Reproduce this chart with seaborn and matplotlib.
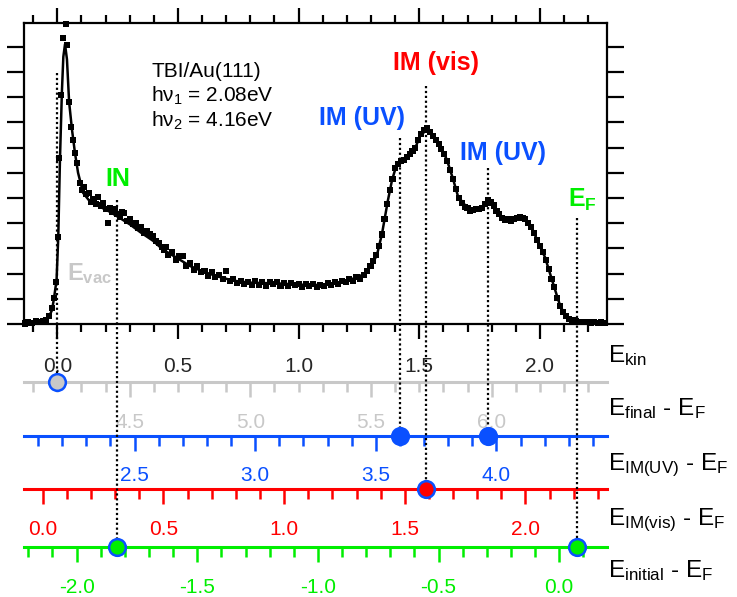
import numpy as np
import pandas as pd
import matplotlib
matplotlib.use('Agg')
import matplotlib.pyplot as plt
import seaborn as sns
from matplotlib.ticker import MultipleLocator, FixedLocator, FixedFormatter, NullFormatter

# ---------------- data ----------------
# smooth fit line (E_kin in eV, intensity in arb. units = tick spacing)
fit_ekin = [-0.140, -0.100, -0.070, -0.050, -0.035, -0.022, -0.014, -0.003, 0.004, 0.011,
            0.019, 0.025, 0.032, 0.040, 0.049, 0.061, 0.073, 0.086, 0.107, 0.136,
            0.177, 0.218, 0.260, 0.301, 0.343, 0.397, 0.438, 0.496, 0.550, 0.604,
            0.660, 0.728, 0.799, 0.869, 0.935, 1.006, 1.076, 1.118, 1.159, 1.200,
            1.242, 1.275, 1.304, 1.325, 1.346, 1.358, 1.370, 1.387, 1.404, 1.429,
            1.453, 1.482, 1.503, 1.524, 1.545, 1.565, 1.586, 1.615, 1.640, 1.661,
            1.698, 1.723, 1.760, 1.785, 1.806, 1.835, 1.864, 1.897, 1.926, 1.951,
            1.972, 1.992, 2.021, 2.042, 2.063, 2.083, 2.104, 2.133, 2.179, 2.270]
fit_int = [0.03, 0.06, 0.09, 0.14, 0.28, 0.55, 1.00, 1.75, 3.45, 6.50,
           9.20, 10.60, 11.10, 10.50, 8.80, 7.70, 6.80, 6.00, 5.20, 4.85,
           4.65, 4.45, 4.20, 3.95, 3.65, 3.30, 2.95, 2.62, 2.30, 2.08,
           1.90, 1.72, 1.64, 1.62, 1.60, 1.56, 1.55, 1.58, 1.62, 1.72,
           1.85, 2.00, 2.35, 2.75, 3.60, 4.25, 4.90, 5.70, 6.25, 6.45,
           6.65, 6.95, 7.45, 7.65, 7.60, 7.35, 7.10, 6.50, 5.75, 5.05,
           4.62, 4.50, 4.62, 4.88, 4.72, 4.30, 4.12, 4.20, 4.25, 4.05,
           3.70, 3.25, 2.65, 2.00, 1.35, 0.75, 0.35, 0.15, 0.08, 0.05]

# measured points (square markers)
pts_ekin = [-0.135, -0.120, -0.105, -0.090, -0.075, -0.060, -0.045, -0.033, -0.022, -0.012,
            -0.004, 0.002, 0.009, 0.016, 0.022, 0.035, 0.040, 0.050, 0.057, 0.066,
            0.075, 0.083, 0.094, 0.101, 0.110, 0.120, 0.130, 0.140, 0.150, 0.160,
            0.170, 0.180, 0.190, 0.200, 0.211, 0.218, 0.228, 0.238, 0.248, 0.258,
            0.268, 0.278, 0.290, 0.300, 0.312, 0.324, 0.336, 0.348, 0.360, 0.372,
            0.384, 0.396, 0.408, 0.420, 0.432, 0.444, 0.452, 0.460, 0.475, 0.490,
            0.505, 0.520, 0.535, 0.550, 0.565, 0.580, 0.595, 0.610, 0.625, 0.640,
            0.655, 0.670, 0.685, 0.700, 0.715, 0.730, 0.745, 0.760, 0.775, 0.790,
            0.805, 0.820, 0.835, 0.850, 0.865, 0.880, 0.895, 0.910, 0.925, 0.940,
            0.955, 0.970, 0.985, 1.000, 1.015, 1.030, 1.045, 1.060, 1.075, 1.090,
            1.105, 1.120, 1.135, 1.150, 1.165, 1.180, 1.195, 1.210, 1.225, 1.240,
            1.255, 1.270, 1.285, 1.298, 1.310, 1.322, 1.334, 1.345, 1.356, 1.367,
            1.378, 1.389, 1.400, 1.412, 1.424, 1.436, 1.448, 1.460, 1.472, 1.484,
            1.496, 1.508, 1.520, 1.532, 1.544, 1.556, 1.568, 1.580, 1.592, 1.604,
            1.616, 1.628, 1.640, 1.652, 1.664, 1.676, 1.688, 1.700, 1.712, 1.724,
            1.736, 1.748, 1.760, 1.772, 1.784, 1.796, 1.808, 1.820, 1.832, 1.844,
            1.856, 1.868, 1.880, 1.892, 1.904, 1.916, 1.928, 1.940, 1.952, 1.964,
            1.976, 1.988, 2.000, 2.012, 2.024, 2.036, 2.048, 2.060, 2.072, 2.084,
            2.096, 2.108, 2.120, 2.135, 2.150, 2.165, 2.180, 2.195, 2.210, 2.225,
            2.240, 2.255, 2.270]
pts_int = [0.02, 0.06, 0.05, 0.10, 0.09, 0.12, 0.16, 0.30, 0.62, 1.05,
           1.65, 3.45, 6.60, 9.10, 11.35, 11.90, 11.05, 8.80, 7.80, 7.30,
           6.80, 6.40, 5.60, 5.30, 5.45, 5.15, 5.20, 4.85, 4.95, 4.75,
           5.05, 4.70, 4.80, 4.55, 4.00, 4.60, 4.45, 4.55, 4.35, 4.25,
           4.45, 4.40, 4.10, 4.15, 3.95, 4.00, 3.80, 3.85, 3.62, 3.70,
           3.55, 3.48, 3.30, 3.22, 3.05, 2.95, 3.05, 2.75, 2.85, 2.55,
           2.70, 2.70, 2.30, 2.40, 2.15, 2.28, 2.05, 2.12, 1.90, 2.05,
           1.88, 1.95, 1.80, 2.10, 1.72, 1.78, 1.62, 1.72, 1.58, 1.68,
           1.56, 1.70, 1.55, 1.66, 1.52, 1.68, 1.58, 1.65, 1.52, 1.62,
           1.50, 1.64, 1.54, 1.60, 1.48, 1.58, 1.52, 1.60, 1.48, 1.56,
           1.50, 1.62, 1.54, 1.66, 1.58, 1.72, 1.65, 1.78, 1.70, 1.88,
           1.80, 1.95, 2.12, 2.30, 2.50, 2.72, 3.10, 3.55, 4.15, 4.75,
           5.30, 5.75, 6.20, 6.35, 6.45, 6.50, 6.62, 6.75, 6.85, 7.00,
           7.30, 7.55, 7.70, 7.78, 7.62, 7.45, 7.30, 7.15, 6.95, 6.75,
           6.45, 6.10, 5.75, 5.35, 5.00, 4.80, 4.65, 4.62, 4.50, 4.52,
           4.55, 4.58, 4.62, 4.75, 4.90, 4.82, 4.70, 4.50, 4.35, 4.22,
           4.12, 4.15, 4.10, 4.18, 4.22, 4.25, 4.22, 4.15, 4.02, 3.85,
           3.62, 3.35, 3.10, 2.85, 2.55, 2.20, 1.80, 1.45, 1.05, 0.72,
           0.48, 0.30, 0.20, 0.14, 0.10, 0.09, 0.07, 0.08, 0.06, 0.07,
           0.05, 0.06, 0.05]

# main E_kin tick labels
ekin_ticks = [0.0, 0.5, 1.0, 1.5, 2.0]
ekin_ticklabels = ["0.0", "0.5", "1.0", "1.5", "2.0"]

# energy scales below the spectrum: label, offset to E_kin, colour, tick labels
scale_names = ["E$_{final}$ - E$_F$", "E$_{IM(UV)}$ - E$_F$",
               "E$_{IM(vis)}$ - E$_F$", "E$_{initial}$ - E$_F$"]
scale_offsets = [4.20, 2.18, 0.06, -2.08]
scale_colors = ["#c8c8c8", "#0a50ff", "#ff0000", "#00ee00"]
scale_ticks = [[4.5, 5.0, 5.5, 6.0],
               [2.5, 3.0, 3.5, 4.0],
               [0.0, 0.5, 1.0, 1.5, 2.0],
               [-2.0, -1.5, -1.0, -0.5, 0.0]]
scale_ticklabels = [["4.5", "5.0", "5.5", "6.0"],
                    ["2.5", "3.0", "3.5", "4.0"],
                    ["0.0", "0.5", "1.0", "1.5", "2.0"],
                    ["-2.0", "-1.5", "-1.0", "-0.5", "0.0"]]

# marked states (E_kin positions)
state_ekin = [0.0, 0.248, 1.420, 1.527, 1.785, 2.154]
state_top = [9.96, 4.92, 7.38, 9.44, 6.19, 4.21]
state_scale = [0, 3, 1, 2, 1, 3]          # index of the scale they drop to

# ---------------- style ----------------
sns.set_style("ticks")
plt.rcParams['font.family'] = ['Liberation Sans', 'DejaVu Sans']
plt.rcParams['mathtext.default'] = 'regular'
plt.rcParams['axes.unicode_minus'] = False

W, H = 737, 597
fig = plt.figure(figsize=(W / 100, H / 100), dpi=100)
ax = fig.add_axes([24 / W, 1 - 324 / H, (607 - 24) / W, (324 - 23) / H])

YMAX = 11.94
ax.set_xlim(-0.138, 2.278)
ax.set_ylim(0, YMAX)

fit_df = pd.DataFrame({"Ekin": fit_ekin, "I": fit_int})
pts_df = pd.DataFrame({"Ekin": pts_ekin, "I": pts_int})
sns.lineplot(data=fit_df, x="Ekin", y="I", ax=ax, color="black", lw=1.8,
             sort=False, zorder=3)
sns.scatterplot(data=pts_df, x="Ekin", y="I", ax=ax, color="black", marker="s",
                s=19, edgecolor="none", linewidth=0, zorder=4, clip_on=False)
ax.set_xlabel("")
ax.set_ylabel("")

for sp in ax.spines.values():
    sp.set_visible(True)
    sp.set_linewidth(1.6)
    sp.set_color("black")

ax.xaxis.set_major_locator(FixedLocator(ekin_ticks))
ax.xaxis.set_major_formatter(FixedFormatter(ekin_ticklabels))
ax.xaxis.set_minor_locator(MultipleLocator(0.1))
ax.yaxis.set_major_locator(MultipleLocator(1))
ax.yaxis.set_major_formatter(NullFormatter())
ax.tick_params(axis='x', which='major', direction='out', length=11, width=1.6,
               top=True, bottom=True, labelsize=15, pad=13, color='black')
ax.tick_params(axis='x', which='minor', direction='out', length=6, width=1.6,
               top=True, bottom=True, color='black')
ax.tick_params(axis='y', which='major', direction='out', length=12, width=1.6,
               left=True, right=True, labelleft=False, color='black')

# y levels (data units) of the extra energy scales
scale_levels = [-2.30, -4.44, -6.55, -8.85]
for off, col, lev, tks, tls in zip(scale_offsets, scale_colors, scale_levels,
                                   scale_ticks, scale_ticklabels):
    sec = ax.secondary_xaxis(lev / YMAX,
                             functions=(lambda x, o=off: x + o, lambda x, o=off: x - o))
    sec.spines['bottom'].set_color(col)
    sec.spines['bottom'].set_linewidth(2.2)
    sec.xaxis.set_major_locator(FixedLocator(tks))
    sec.xaxis.set_major_formatter(FixedFormatter(tls))
    sec.xaxis.set_minor_locator(MultipleLocator(0.1))
    sec.tick_params(which='major', direction='out', length=11, width=1.8,
                    color=col, labelcolor=col, labelsize=15, pad=11)
    sec.tick_params(which='minor', direction='out', length=7, width=1.8, color=col)

# dotted drop lines and circle markers on the scales
marker_fill = ["#c8c8c8", "#00ee00", "#0a50ff", "#ff0000", "#0a50ff", "#00ee00"]
for e, top, si, fc in zip(state_ekin, state_top, state_scale, marker_fill):
    lev = scale_levels[si]
    ax.plot([e, e], [top, lev], color='black', lw=1.6, ls=(0, (1, 1.2)),
            clip_on=False, zorder=2)
    ax.plot([e], [lev], marker='o', ms=12, mfc=fc, mec="#0a50ff", mew=1.8,
            clip_on=False, zorder=6, ls='none')

# annotations
ax.text(0.389, 9.81, "TBI/Au(111)", fontsize=15, color='black', va='baseline')
ax.text(0.389, 8.82, "hν$_1$ = 2.08eV", fontsize=15, color='black', va='baseline')
ax.text(0.389, 7.83, "hν$_2$ = 4.16eV", fontsize=15, color='black', va='baseline')
ax.text(0.2495, 5.49, "IN", fontsize=18, fontweight='bold', color="#00ee00",
        ha='center', va='baseline')
ax.text(0.040, 1.75, "E$_{vac}$", fontsize=17, fontweight='bold', color="#c8c8c8",
        va='baseline')
ax.text(1.262, 7.90, "IM (UV)", fontsize=18, fontweight='bold', color="#0a50ff",
        ha='center', va='baseline')
ax.text(1.569, 10.08, "IM (vis)", fontsize=18, fontweight='bold', color="#ff0000",
        ha='center', va='baseline')
ax.text(1.845, 6.50, "IM (UV)", fontsize=18, fontweight='bold', color="#0a50ff",
        ha='center', va='baseline')
ax.text(2.118, 4.66, "E$_F$", fontsize=18, fontweight='bold', color="#00ee00",
        va='baseline')

# scale names on the right
right_names = ["E$_{kin}$"] + scale_names
right_base = [361.7, 415, 470, 525, 577]
for nm, yb in zip(right_names, right_base):
    fig.text(608 / W, 1 - yb / H, nm, fontsize=17.5, color='black', va='baseline',
             ha='left')

fig.savefig("out.png", dpi=100)
